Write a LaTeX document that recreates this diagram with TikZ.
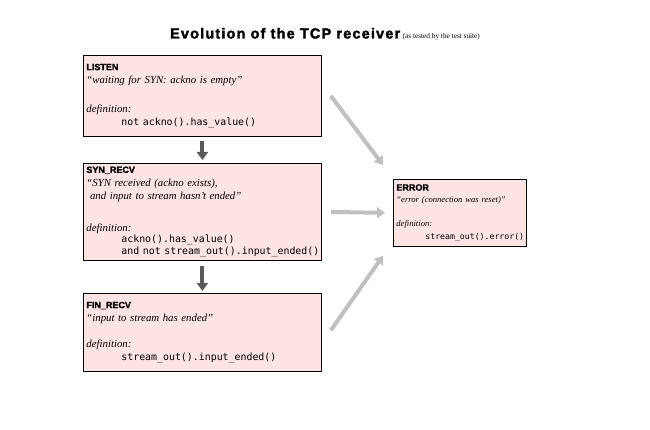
\documentclass[tikz,border=0pt]{standalone}
\usepackage{fontspec}
\setmainfont{Liberation Serif}
\newfontfamily\headfont{Liberation Sans}[FakeBold=1.5]
\newfontfamily\titlefont{Liberation Sans}[FakeBold=2,LetterSpace=8]
\newfontfamily\codefont{DejaVu Sans Mono}[WordSpace={1,0,0}]
\usetikzlibrary{arrows.meta}
\usetikzlibrary{shadows}

\definecolor{boxpink}{RGB}{253,228,228}
\definecolor{downgray}{RGB}{90,90,90}
\definecolor{errgray}{RGB}{192,192,192}

\newcommand{\stname}[1]{\mbox{\headfont\fontsize{9}{11}\selectfont\bfseries #1}}
\newcommand{\stnote}[1]{\mbox{\itshape #1}}
\newcommand{\stcode}[2][9.9]{\hspace*{35pt}\mbox{\codefont\fontsize{#1}{12}\selectfont #2}}

\tikzset{
  statebox/.style={draw=black,thick,fill=boxpink,anchor=north west,
    align=left,inner xsep=3pt,inner ysep=3pt,
    font=\fontsize{10.8}{13.5}\selectfont,
    drop shadow={shadow xshift=1pt,shadow yshift=-1pt,fill=gray!70,opacity=1}},
  downarrow/.style={draw=downgray,line width=4pt,
    -{Triangle[width=11pt,length=8pt]}},
  errarrow/.style={draw=errgray,line width=4pt,
    -{Triangle[width=11pt,length=8pt]}}
}

\begin{document}
\begin{tikzpicture}[x=1pt,y=1pt]
\useasboundingbox (0,0) rectangle (650,429);

\node (title) at (325,395)
  {{\titlefont\fontsize{14.5}{16}\selectfont\bfseries Evolution of the TCP receiver}
   {\fontsize{7.3}{9}\selectfont(as tested by the test suite)}};

% the four states
\node[statebox,text width=232pt,minimum height=81pt] (listen) at (83,374)
  {\stname{LISTEN}\\
   \stnote{“waiting for SYN: ackno is empty”}\\[15pt]
   \stnote{definition:}\\
   \stcode{not ackno().has\_value()}};

\node[statebox,text width=232pt,minimum height=97pt] (synrecv) at (83,266)
  {\stname{SYN\_RECV}\\
   \stnote{“SYN received (ackno exists),}\\
   \stnote{\ and input to stream hasn't ended”}\\[18pt]
   \stnote{definition:}\\[-2pt]
   \stcode{ackno().has\_value()}\\[-1.5pt]
   \stcode{and not stream\_out().input\_ended()}};

\node[statebox,text width=232pt,minimum height=78pt] (finrecv) at (83,136)
  {\stname{FIN\_RECV}\\
   \stnote{“input to stream has ended”}\\[12pt]
   \stnote{definition:}\\
   \stcode{stream\_out().input\_ended()}};

\node[statebox,text width=127pt,minimum height=67pt,
      font=\fontsize{8.6}{12}\selectfont] (error) at (393,250)
  {\stname{ERROR}\\
   \stnote{“error (connection was reset)”}\\[12pt]
   \stnote{definition:}\\[1pt]
   \stcode[8.2]{\hspace*{-6pt}stream\_out().error()}};

% normal evolution
\draw[downarrow] ([yshift=-4pt]listen.south) -- ([yshift=3pt]synrecv.north);
\draw[downarrow] ([yshift=-5pt]synrecv.south) -- ([yshift=2pt]finrecv.north);

% reset from any state
\draw[errarrow] ([xshift=9pt]listen.east) -- ([shift={(-10pt,14pt)}]error.north west);
\draw[errarrow] ([xshift=9pt]synrecv.east) -- ([xshift=-8pt]error.west);
\draw[errarrow] ([xshift=9pt,yshift=2pt]finrecv.east) -- ([shift={(-10pt,-9pt)}]error.south west);
\end{tikzpicture}
\end{document}
